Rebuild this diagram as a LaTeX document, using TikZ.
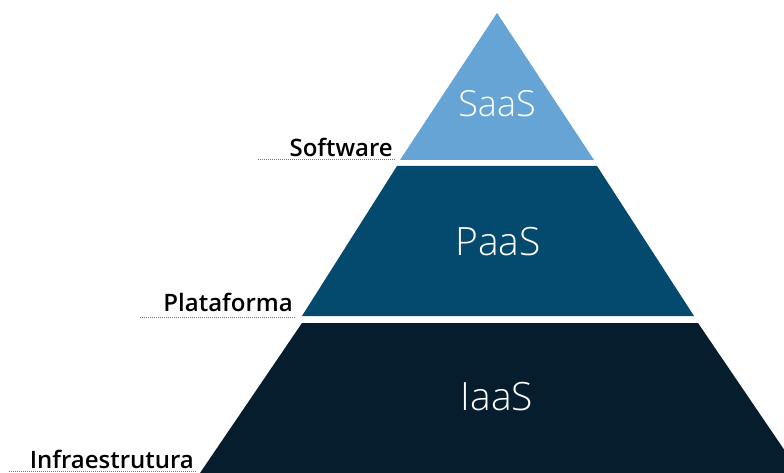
\documentclass[tikz,border=0pt]{standalone}
\usepackage{fontspec}
\setmainfont{Open Sans}
\newfontfamily\layerfont{Open Sans Light}
\newfontfamily\tagfont{Open Sans Semibold}
\definecolor{saasblue}{RGB}{102,164,214}
\definecolor{paasblue}{RGB}{4,74,110}
\definecolor{iaasblue}{RGB}{6,29,45}
\definecolor{leadergray}{RGB}{120,120,120}
\begin{document}
\begin{tikzpicture}[x=1pt,y=-1pt,
  layertext/.style={text=white, anchor=base, inner sep=0pt, font=\layerfont\fontsize{39}{39}\selectfont},
  tiertag/.style={text=black, anchor=base east, inner sep=0pt, font=\tagfont\fontsize{24}{24}\selectfont},
  leader/.style={draw=leadergray, line width=0.8pt, dash pattern=on 1pt off 1pt}]
\clip (0,0) rectangle (784,473);

% pyramid layers
\fill[saasblue] (497,13) -- (594,160) -- (400,160) -- cycle;
\fill[paasblue] (397,166) -- (597,166) -- (694,316) -- (302,316) -- cycle;
\fill[iaasblue] (302,323) -- (698,323) -- (800,473) -- (200,473) -- cycle;

% layer names
\node[layertext, font=\layerfont\fontsize{36}{36}\selectfont] (saas) at (497,117) {SaaS};
\node[layertext] (paas) at (498,255) {PaaS};
\node[layertext] (iaas) at (497,410) {IaaS};

% tier tags with dotted leaders
\node[tiertag] (software) at (393,157) {Software};
\node[tiertag] (plataforma) at (293,311) {Plataforma};
\node[tiertag] (infra) at (194,468) {Infraestrutura};

\coordinate (swstart) at (258,159);
\coordinate (plstart) at (140,317);
\coordinate (instart) at (9,471);
\coordinate (swend) at (395,159);
\coordinate (plend) at (295,317);
\coordinate (inend) at (197,471);
\draw[leader] (swstart) -- (swend);
\draw[leader] (plstart) -- (plend);
\draw[leader] (instart) -- (inend);
\end{tikzpicture}
\end{document}
